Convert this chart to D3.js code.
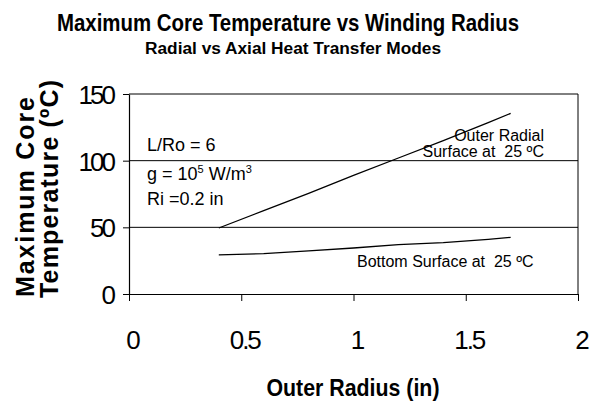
<!DOCTYPE html>
<html>
<head>
<meta charset="utf-8">
<script src="https://cdn.jsdelivr.net/npm/d3@7"></script>
<style>
  body { margin: 0; background: #fff; }
  text { font-family: "Liberation Sans", Arial, sans-serif; fill: #000; }
</style>
</head>
<body>
<div id="chart"></div>
<script>
const radius = [0.4, 0.6, 0.8, 1.0, 1.2, 1.4, 1.6, 1.7];
const outerRadial = [49.5, 62.5, 75.5, 89, 102, 115, 128.5, 135.5];
const bottomSurface = [29.3, 30.3, 32.3, 34.5, 37.0, 38.6, 41.0, 42.5];
const xTicks = [0, 0.5, 1, 1.5, 2];
const yTicks = [0, 50, 100, 150];

const w = 599;
const h = 407;
const plotLeft = 129, plotRight = 578, plotTop = 94, plotBottom = 294;

const svg = d3.select('#chart').append('svg')
    .attr('width', w)
    .attr('height', h);

const x = d3.scaleLinear().domain([0, 2]).range([plotLeft, plotRight]);
const y = d3.scaleLinear().domain([0, 150]).range([plotBottom, plotTop]);

// titles
svg.append('text')
    .attr('x', 288).attr('y', 31)
    .attr('text-anchor', 'middle')
    .attr('font-size', 24).attr('font-weight', 'bold')
    .attr('textLength', 462).attr('lengthAdjust', 'spacingAndGlyphs')
    .text('Maximum Core Temperature vs Winding Radius');

svg.append('text')
    .attr('x', 293).attr('y', 54)
    .attr('text-anchor', 'middle')
    .attr('font-size', 16).attr('font-weight', 'bold')
    .attr('textLength', 296).attr('lengthAdjust', 'spacingAndGlyphs')
    .text('Radial vs Axial Heat Transfer Modes');

// grid lines (horizontal) and frame
svg.append('g').selectAll('line')
    .data(yTicks.slice(1))
    .enter().append('line')
    .attr('x1', plotLeft).attr('x2', plotRight)
    .attr('y1', (d) => y(d)).attr('y2', (d) => y(d))
    .attr('stroke', '#000').attr('stroke-width', 1);

svg.append('line')
    .attr('x1', plotRight).attr('x2', plotRight)
    .attr('y1', plotTop).attr('y2', plotBottom)
    .attr('stroke', '#000').attr('stroke-width', 1);

// axes
const xAxis = svg.append('g')
    .attr('transform', 'translate(0,' + plotBottom + ')')
    .call(d3.axisBottom(x).tickValues(xTicks).tickSize(7).tickPadding(30)
        .tickFormat(d3.format('')).tickSizeOuter(0));
xAxis.select('.domain').attr('stroke', '#000').attr('stroke-width', 1.2);
xAxis.selectAll('text')
    .attr('font-size', 26)
    .attr('font-family', '"Liberation Sans", Arial, sans-serif')
    .attr('letter-spacing', -2)
    .attr('dx', 3);

const yAxis = svg.append('g')
    .attr('transform', 'translate(' + plotLeft + ',0)')
    .call(d3.axisLeft(y).tickValues(yTicks).tickSize(6).tickPadding(10)
        .tickSizeOuter(0));
yAxis.select('.domain').attr('stroke', '#000').attr('stroke-width', 1.2);
yAxis.selectAll('text')
    .attr('font-size', 26)
    .attr('font-family', '"Liberation Sans", Arial, sans-serif')
    .attr('letter-spacing', -3)
    .attr('dy', '0.36em');

// axis titles
svg.append('text')
    .attr('transform', 'translate(353,396)')
    .attr('text-anchor', 'middle')
    .attr('font-size', 24).attr('font-weight', 'bold')
    .attr('textLength', 173).attr('lengthAdjust', 'spacingAndGlyphs')
    .text('Outer Radius (in)');

svg.append('text')
    .attr('transform', 'translate(34,197) rotate(-90)')
    .attr('text-anchor', 'middle')
    .attr('font-size', 25).attr('font-weight', 'bold')
    .attr('textLength', 200).attr('lengthAdjust', 'spacing')
    .text('Maximum Core');

svg.append('text')
    .attr('transform', 'translate(58,189) rotate(-90)')
    .attr('text-anchor', 'middle')
    .attr('font-size', 25).attr('font-weight', 'bold')
    .attr('textLength', 218).attr('lengthAdjust', 'spacing')
    .text('Temperature (ºC)');

// series lines
const line = d3.line()
    .x((d) => x(d[0]))
    .y((d) => y(d[1]));

[outerRadial, bottomSurface].forEach(function(s) {
  svg.append('path')
      .datum(radius.map((r, i) => [r, s[i]]))
      .attr('fill', 'none')
      .attr('stroke', '#000')
      .attr('stroke-width', 1.3)
      .attr('d', line);
});

// annotations
const note = svg.append('g').attr('font-size', 18);
note.append('text').attr('x', 147).attr('y', 151).text('L/Ro = 6');
const g = note.append('text').attr('x', 147).attr('y', 180);
g.append('tspan').text('g = 10');
g.append('tspan').attr('font-size', 11).attr('dy', -7).text('5');
g.append('tspan').attr('dy', 7).text(' W/m');
g.append('tspan').attr('font-size', 11).attr('dy', -7).text('3');
note.append('text').attr('x', 147).attr('y', 205).text('Ri =0.2 in');

const lab = svg.append('g').attr('font-size', 16);
lab.append('text').attr('x', 544).attr('y', 141)
    .attr('text-anchor', 'end').text('Outer Radial');
lab.append('text').attr('x', 544).attr('y', 157)
    .attr('text-anchor', 'end').text('Surface at \u00A025 ºC');
lab.append('text').attr('x', 357).attr('y', 267)
    .text('Bottom Surface at \u00A025 ºC');
</script>
</body>
</html>
